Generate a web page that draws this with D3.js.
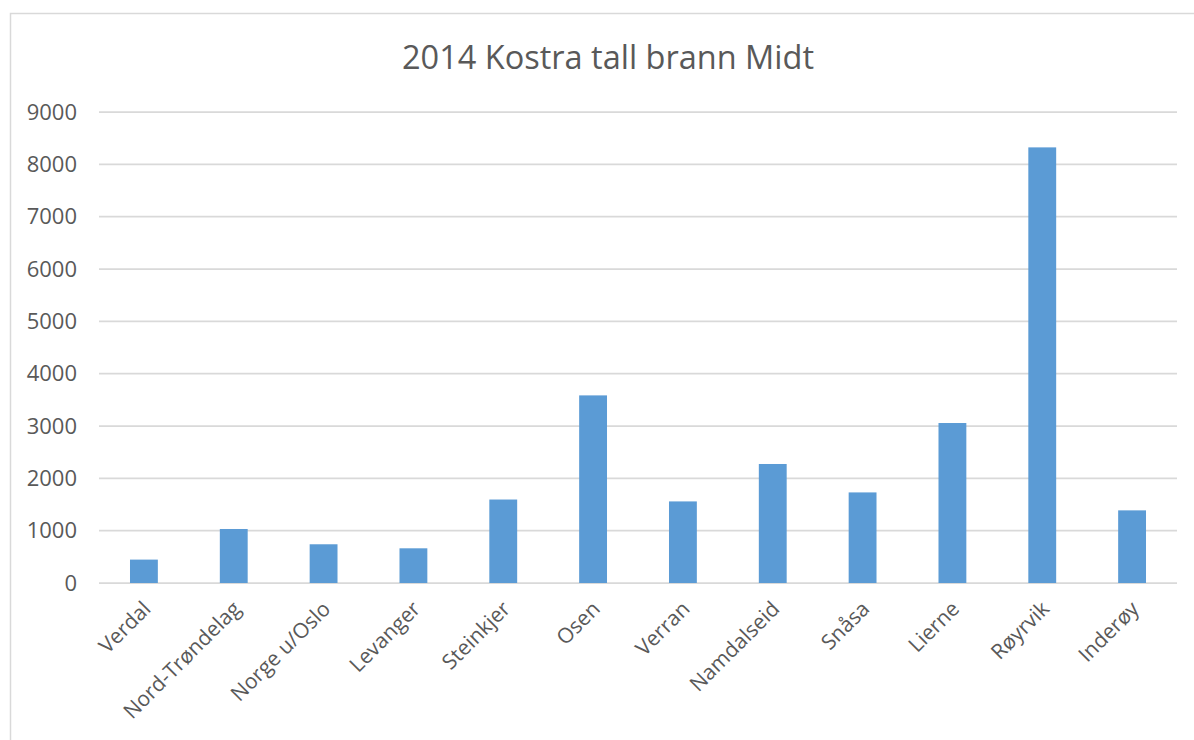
<!DOCTYPE html>
<html>
<head>
<meta charset="utf-8">
<script src="https://cdn.jsdelivr.net/npm/d3@7"></script>
<style>
  html, body { margin: 0; padding: 0; background: #fff; }
  svg { display: block; }
</style>
</head>
<body>
<svg id="chart" width="1194" height="740"></svg>
<script>
const title = "2014 Kostra tall brann Midt";
const categories = ["Verdal", "Nord-Trøndelag", "Norge u/Oslo", "Levanger", "Steinkjer", "Osen",
  "Verran", "Namdalseid", "Snåsa", "Lierne", "Røyrvik", "Inderøy"];
const values = [447, 1032, 740, 663, 1595, 3585, 1559, 2274, 1731, 3057, 8324, 1388];
const yTicks = [0, 1000, 2000, 3000, 4000, 5000, 6000, 7000, 8000, 9000];

const svg = d3.select("#chart");
const font = "'Open Sans', 'Liberation Sans', sans-serif";
const textColor = "#595959";
const gridColor = "#D9D9D9";
const barColor = "#5B9BD5";

// chart frame
svg.append("rect")
  .attr("x", 10.5).attr("y", 13.5)
  .attr("width", 1300).attr("height", 800)
  .attr("fill", "#fff")
  .attr("stroke", gridColor).attr("stroke-width", 1.5);

const plot = { left: 99, right: 1177, top: 112, bottom: 583 };

const x = d3.scaleBand().domain(categories).range([plot.left, plot.right]).padding(0);
const y = d3.scaleLinear().domain([0, 9000]).range([plot.bottom, plot.top]);

// gridlines
svg.append("g").selectAll("line").data(yTicks).join("line")
  .attr("x1", plot.left).attr("x2", plot.right)
  .attr("y1", d => y(d)).attr("y2", d => y(d))
  .attr("stroke", gridColor).attr("stroke-width", 1.75);

// y axis labels
const yAxis = d3.axisLeft(y).tickValues(yTicks).tickSize(0).tickPadding(0).tickFormat(d3.format("d"));
const yg = svg.append("g").attr("transform", `translate(${77},0)`).call(yAxis);
yg.select(".domain").remove();
yg.selectAll("text").attr("fill", textColor).style("font-family", font).style("font-size", "22px");

// bars
const barW = x.bandwidth() * 0.31;
svg.append("g").selectAll("rect").data(values).join("rect")
  .attr("x", (d, i) => x(categories[i]) + (x.bandwidth() - barW) / 2)
  .attr("width", barW)
  .attr("y", d => y(d))
  .attr("height", d => y(0) - y(d))
  .attr("fill", barColor);

// x labels
const xAxis = d3.axisBottom(x).tickSize(0).tickPadding(0);
const xg = svg.append("g").attr("transform", `translate(0,${plot.bottom})`).call(xAxis);
xg.select(".domain").remove();
xg.selectAll("text")
  .attr("fill", textColor).style("font-family", font).style("font-size", "21px")
  .attr("text-anchor", "end")
  .attr("y", 0).attr("dy", "0.35em")
  .attr("transform", "translate(3,22) rotate(-45)");

// title
svg.append("text")
  .attr("x", 608).attr("y", 69)
  .attr("text-anchor", "middle")
  .attr("fill", textColor)
  .style("font-family", font).style("font-size", "32.5px")
  .text(title);
</script>
</body>
</html>
